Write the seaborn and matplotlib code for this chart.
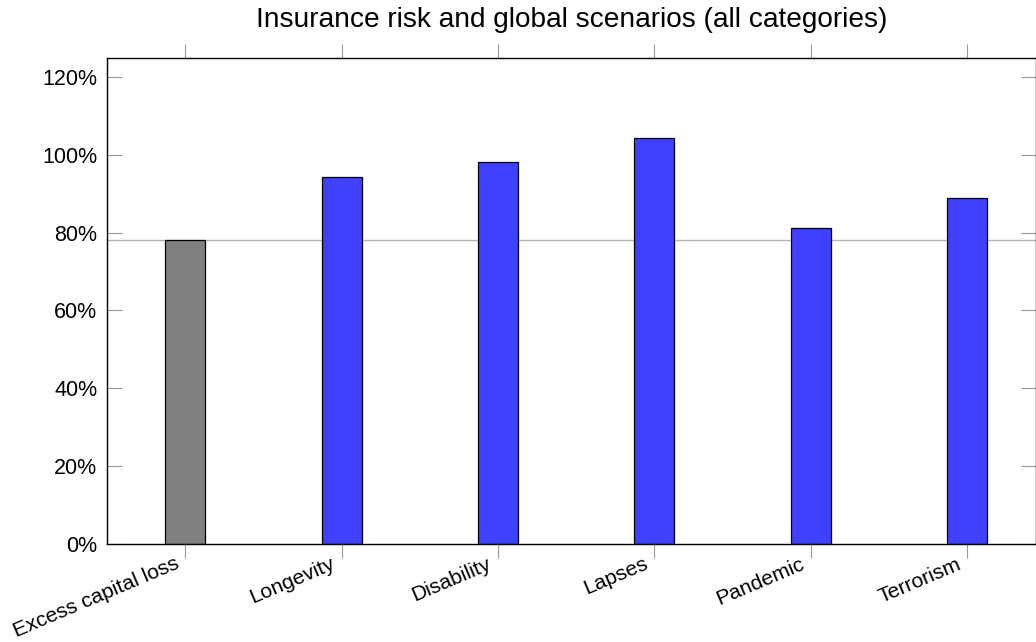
import matplotlib
matplotlib.use('Agg')
import matplotlib.pyplot as plt
import matplotlib.transforms as mtransforms
import seaborn as sns
import pandas as pd
from matplotlib.ticker import FuncFormatter

categories = ['Excess capital loss', 'Longevity', 'Disability', 'Lapses', 'Pandemic', 'Terrorism']
values = [78.0, 94.4, 98.2, 104.4, 81.1, 88.9]
bar_colors = ['#808080', '#4040ff', '#4040ff', '#4040ff', '#4040ff', '#4040ff']
reference_level = 78.0
y_ticks = [0, 20, 40, 60, 80, 100, 120]

df = pd.DataFrame({'category': categories, 'value': values})

sns.set_style('white')
plt.rcParams['font.family'] = ['Liberation Sans', 'DejaVu Sans']
plt.rcParams['text.color'] = 'black'
plt.rcParams['xtick.labelcolor'] = 'black'
plt.rcParams['ytick.labelcolor'] = 'black'

W, H = 1036, 642
fig = plt.figure(figsize=(W / 100, H / 100), dpi=100)
ax = fig.add_axes([107 / W, 1 - 543.5 / H, (W - 107) / W, (543.5 - 57.7) / H])

# reference line behind the bars
ax.axhline(reference_level, color='#b3b3b3', linewidth=1.0, zorder=0)

sns.barplot(data=df, x='category', y='value', hue='category', palette=bar_colors,
            width=0.256, edgecolor='black', linewidth=0.9, saturation=1,
            legend=False, ax=ax, zorder=2)

ax.set_xlim(-0.5, 5.44)
ax.set_ylim(0, 125)
ax.set_yticks(y_ticks)
ax.yaxis.set_major_formatter(FuncFormatter(lambda v, p: f'{int(v)}%'))
ax.set_xlabel('')
ax.set_ylabel('')

for s in ax.spines.values():
    s.set_color('black')
    s.set_linewidth(1.0)

ax.tick_params(axis='x', which='both', bottom=True, top=True, direction='out',
               length=10, width=0.8, color='#999999', labelsize=15.2, pad=0)
ax.tick_params(axis='y', which='both', left=True, right=True, direction='in',
               length=11, width=0.8, color='#999999', labelsize=15.5, pad=7)
ax.set_xticks(range(len(categories)))
ax.set_xticklabels(categories, rotation=23, ha='right', rotation_mode='anchor')

# nudge the rotated labels to the lower left of their ticks
shift = mtransforms.ScaledTranslation(-11 / 100, 3 / 100, fig.dpi_scale_trans)
for lab in ax.get_xticklabels():
    lab.set_transform(lab.get_transform() + shift)

fig.text((107 + W) / 2 / W, 1 - 27 / H, 'Insurance risk and global scenarios (all categories)',
         ha='center', va='baseline', fontsize=20.2)

fig.savefig('out.png', dpi=100)
